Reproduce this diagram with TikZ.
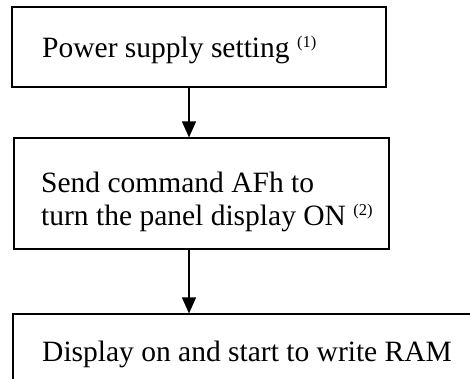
\documentclass[tikz,border=0pt]{standalone}
\usepackage{fontspec}
\setmainfont{Liberation Serif}
\usetikzlibrary{arrows.meta}
\newcommand\supnote[1]{\raisebox{10pt}{\fontsize{16.5}{16.5}\selectfont #1}}
\begin{document}
\begin{tikzpicture}[x=1pt,y=-1pt,
  stepbox/.style={draw=black,line width=1.2pt,rectangle,inner sep=0pt},
  steptext/.style={anchor=base west,inner sep=0pt,font=\fontsize{29.5}{33}\selectfont},
  flowarrow/.style={draw=black,line width=1.2pt,-{Triangle[width=14pt,length=16pt]}}]
\useasboundingbox (0,0) rectangle (470,378);
\clip (0,0) rectangle (470,378);
\node[stepbox,minimum width=374pt,minimum height=80pt] (b1) at (199,47) {};
\node[stepbox,minimum width=375pt,minimum height=111pt] (b2) at (201.5,193.5) {};
\node[stepbox,minimum width=480pt,minimum height=100pt] (b3) at (253,364) {};
\node[steptext] (t1) at (42,57) {Power supply setting \supnote{(1)}};
\node[steptext] (t2a) at (41,192) {Send command AFh to};
\node[steptext] (t2b) at (41,225) {turn the panel display ON \supnote{(2)}};
\node[steptext] (t3) at (42,361) {Display on and start to write RAM};
\coordinate (ax) at (189,0);
\draw[flowarrow] (b1.south -| ax) -- (b2.north -| ax);
\draw[flowarrow] (b2.south -| ax) -- (b3.north -| ax);
\end{tikzpicture}
\end{document}
